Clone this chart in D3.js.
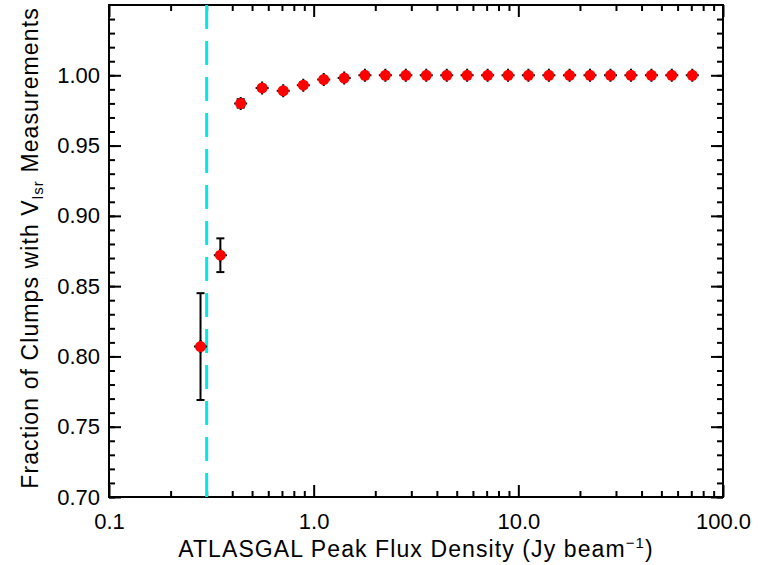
<!DOCTYPE html>
<html>
<head>
<meta charset="utf-8">
<script src="https://cdn.jsdelivr.net/npm/d3@7"></script>
<style>
  body { margin: 0; background: #fff; }
  svg text { font-family: "Liberation Sans", Arial, Helvetica, sans-serif; fill: #000; }
</style>
</head>
<body>
<div id="chart"></div>
<script>
// peak flux bins (Jy/beam), fraction with Vlsr and its error
const fluxBins = [0.28, 0.35, 0.44, 0.56, 0.71, 0.89, 1.12, 1.41, 1.78, 2.24, 2.82, 3.55, 4.47,
  5.62, 7.08, 8.91, 11.2, 14.1, 17.8, 22.4, 28.2, 35.5, 44.7, 56.2, 70.8];
const fraction = [0.807, 0.872, 0.980, 0.991, 0.989, 0.993, 0.997, 0.998, 1.000, 1.000, 1.000, 1.000, 1.000,
  1.000, 1.000, 1.000, 1.000, 1.000, 1.000, 1.000, 1.000, 1.000, 1.000, 1.000, 1.000];
const fractionErr = [0.038, 0.012, 0.003, 0.002, 0.002, 0.002, 0.0015, 0.0012, 0, 0, 0, 0, 0,
  0, 0, 0, 0, 0, 0, 0, 0, 0, 0, 0, 0];

const xMajor = [0.1, 1, 10, 100];
const xMinor = [0.2, 0.3, 0.4, 0.5, 0.6, 0.7, 0.8, 0.9, 2, 3, 4, 5, 6, 7, 8, 9,
  20, 30, 40, 50, 60, 70, 80, 90];
const yMajor = [0.70, 0.75, 0.80, 0.85, 0.90, 0.95, 1.00];
const yMinor = d3.range(70, 105).map(v => v / 100); // tick every 0.01
const cutoff = 0.3;

const width = 758, height = 565;
const margin = { top: 5, right: 35, bottom: 68, left: 109 };

const svg = d3.select('#chart').append('svg')
  .attr('width', width)
  .attr('height', height);

const x = d3.scaleLog()
  .domain([0.1, 100])
  .range([margin.left, width - margin.right]);
const y = d3.scaleLinear()
  .domain([0.70, 1.05])
  .range([height - margin.bottom, margin.top]);

const x0 = x.range()[0], x1 = x.range()[1];
const y0 = y.range()[0], y1 = y.range()[1];

function styleAxis(g) {
  g.select('.domain').remove();
  g.selectAll('.tick line').attr('stroke', '#000').attr('stroke-width', 2);
  g.selectAll('.tick text').style('font-size', '22px').attr('fill', '#000');
}

// bottom axis
svg.append('g').attr('transform', `translate(0,${y0})`)
  .call(d3.axisBottom(x).tickValues(xMajor).tickFormat(d3.format('.1f'))
    .tickSize(-12).tickSizeOuter(0).tickPadding(16))
  .call(styleAxis);
svg.append('g').attr('transform', `translate(0,${y0})`)
  .call(d3.axisBottom(x).tickValues(xMinor).tickFormat('').tickSize(-6).tickSizeOuter(0))
  .call(styleAxis);
// top axis
svg.append('g').attr('transform', `translate(0,${y1})`)
  .call(d3.axisTop(x).tickValues(xMajor).tickFormat('').tickSize(-12).tickSizeOuter(0))
  .call(styleAxis);
svg.append('g').attr('transform', `translate(0,${y1})`)
  .call(d3.axisTop(x).tickValues(xMinor).tickFormat('').tickSize(-6).tickSizeOuter(0))
  .call(styleAxis);
// left axis
svg.append('g').attr('transform', `translate(${x0},0)`)
  .call(d3.axisLeft(y).tickValues(yMajor).tickFormat(d3.format('.2f'))
    .tickSize(-12).tickSizeOuter(0).tickPadding(9))
  .call(styleAxis);
svg.append('g').attr('transform', `translate(${x0},0)`)
  .call(d3.axisLeft(y).tickValues(yMinor).tickFormat('').tickSize(-6).tickSizeOuter(0))
  .call(styleAxis);
// right axis
svg.append('g').attr('transform', `translate(${x1},0)`)
  .call(d3.axisRight(y).tickValues(yMajor).tickFormat('').tickSize(-12).tickSizeOuter(0))
  .call(styleAxis);
svg.append('g').attr('transform', `translate(${x1},0)`)
  .call(d3.axisRight(y).tickValues(yMinor).tickFormat('').tickSize(-6).tickSizeOuter(0))
  .call(styleAxis);

// frame
svg.append('rect')
  .attr('x', x0).attr('y', y1)
  .attr('width', x1 - x0).attr('height', y0 - y1)
  .attr('fill', 'none').attr('stroke', '#000').attr('stroke-width', 2);

// completeness cut
svg.append('line')
  .attr('x1', x(cutoff)).attr('x2', x(cutoff))
  .attr('y1', y1).attr('y2', y0)
  .attr('stroke', '#00e8e8').attr('stroke-width', 3)
  .attr('stroke-dasharray', '24,12');

const points = fluxBins.map((f, i) => ({ f, v: fraction[i], e: fractionErr[i] }));

const pts = svg.append('g').selectAll('g')
  .data(points)
  .join('g')
  .attr('transform', d => `translate(${x(d.f)},0)`);

// error bars
pts.append('line')
  .attr('y1', d => y(d.v - d.e)).attr('y2', d => y(d.v + d.e))
  .attr('stroke', '#000').attr('stroke-width', 2);
pts.each(function(d) {
  const g = d3.select(this);
  [d.v - d.e, d.v + d.e].forEach(v => {
    g.append('line')
      .attr('x1', -4).attr('x2', 4)
      .attr('y1', y(v)).attr('y2', y(v))
      .attr('stroke', '#000').attr('stroke-width', 2);
  });
});
// plus behind the symbol
pts.append('path')
  .attr('d', d => `M-6.5,${y(d.v)}H6.5M0,${y(d.v) - 6.5}V${y(d.v) + 6.5}`)
  .attr('stroke', '#000').attr('stroke-width', 2);
pts.append('circle')
  .attr('cy', d => y(d.v))
  .attr('r', 5.5)
  .attr('fill', '#ff0000');

// axis titles
const xt = svg.append('text')
  .attr('x', (x0 + x1) / 2).attr('y', 557)
  .attr('text-anchor', 'middle')
  .style('font-size', '23px')
  .style('letter-spacing', '1.1px');
xt.append('tspan').text('ATLASGAL Peak Flux Density (Jy beam');
xt.append('tspan').attr('dy', -9).style('font-size', '15px').text('\u22121');
xt.append('tspan').attr('dy', 9).text(')');

const yt = svg.append('text')
  .attr('transform', `translate(38,${(y0 + y1) / 2 - 3}) rotate(-90)`)
  .attr('text-anchor', 'middle')
  .style('font-size', '23px')
  .style('letter-spacing', '1.1px');
yt.append('tspan').text('Fraction of Clumps with V');
yt.append('tspan').attr('dy', 5).style('font-size', '15px').text('lsr');
yt.append('tspan').attr('dy', -5).text(' Measurements');
</script>
</body>
</html>
